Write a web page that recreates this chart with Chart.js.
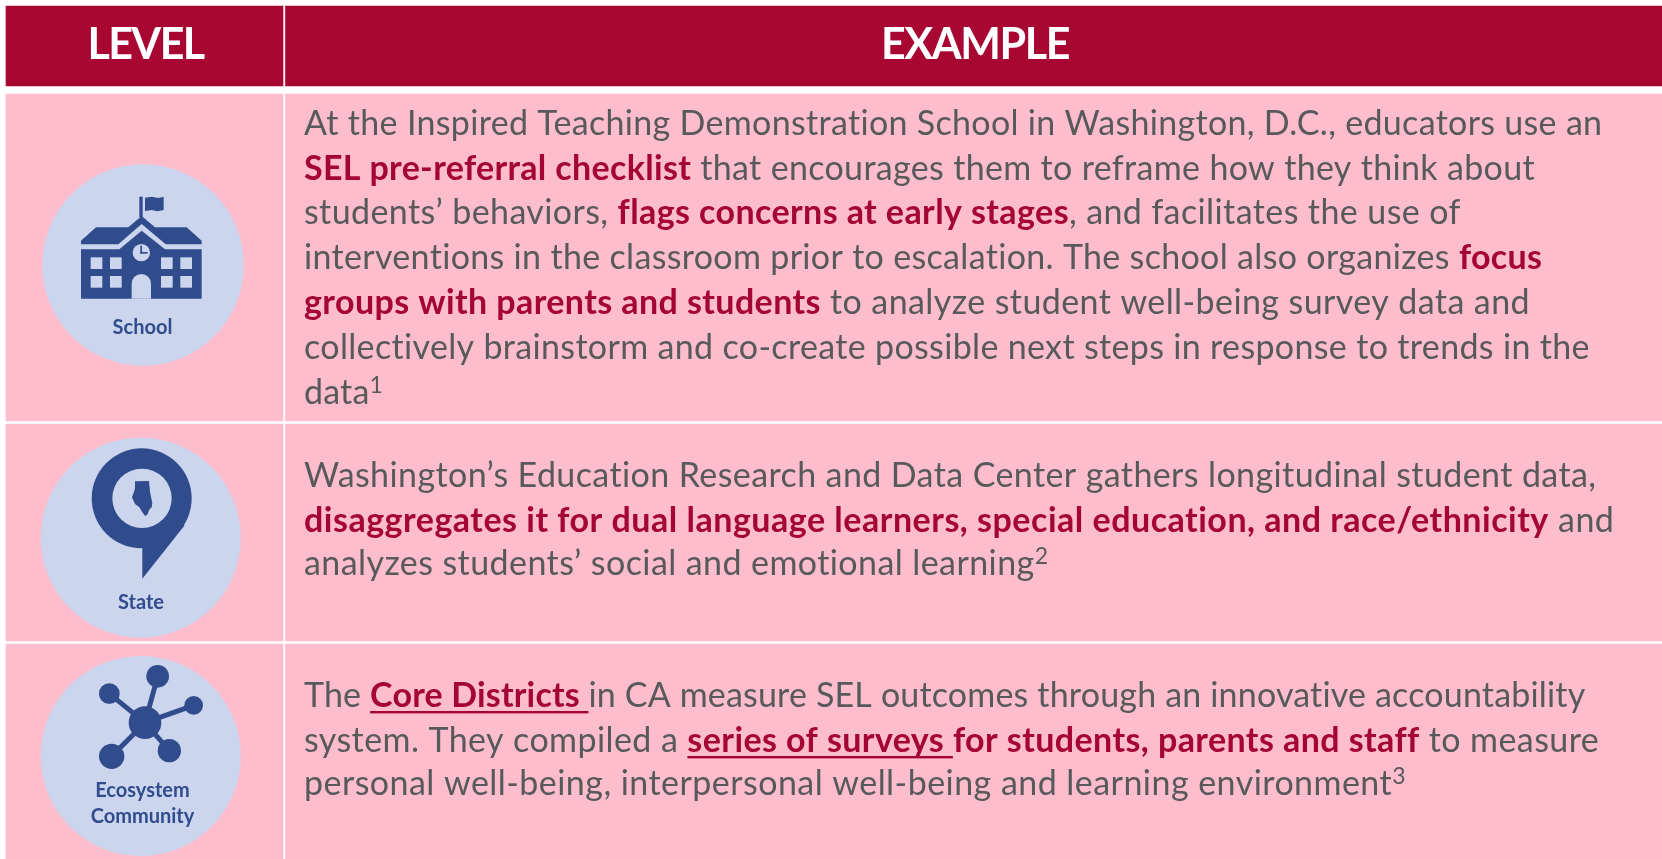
<!DOCTYPE html>
<html>
<head>
<meta charset="utf-8">
<title>SEL data examples by level</title>
<style>
  html, body { margin: 0; padding: 0; background: #fff; }
  canvas { display: block; }
</style>
<script src="https://cdn.jsdelivr.net/npm/chart.js@4"></script>
</head>
<body>
<canvas id="table" width="1662" height="859"></canvas>
<script>
/* table structure: every band is a floating bar on the page-sized scales */
const columnHeads = ["LEVEL", "EXAMPLE"];
const columnStarts = [6, 285.5];
const columnEnds = [283, 1662];
const rowTops = [6, 94, 424, 644];
const rowBottoms = [86, 421, 641, 859];

const levels = ["School", "State", "Ecosystem", "Community"];
const badgeX = [143, 140.7, 140.7];
const badgeY = [265, 537.7, 756];
const badgeR = [100.7, 100, 100];

/* text runs: n = normal, b = bold red, u = bold red underlined, s = superscript */
const schoolLines = [
  [["At the Inspired Teaching Demonstration School in Washington, D.C., educators use an", "n"]],
  [["SEL pre-referral checklist", "b"], [" that encourages them to reframe how they think about", "n"]],
  [["students’ behaviors, ", "n"], ["flags concerns at early stages", "b"], [", and facilitates the use of", "n"]],
  [["interventions in the classroom prior to escalation. The school also organizes ", "n"], ["focus", "b"]],
  [["groups with parents and students", "b"], [" to analyze student well-being survey data and", "n"]],
  [["collectively brainstorm and co-create possible next steps in response to trends in the", "n"]],
  [["data", "n"], ["1", "s"]],
];
const stateLines = [
  [["Washington’s Education Research and Data Center gathers longitudinal student data,", "n"]],
  [["disaggregates it for dual language learners, special education, and race/ethnicity", "b"], [" and", "n"]],
  [["analyzes students’ social and emotional learning", "n"], ["2", "s"]],
];
const ecosystemLines = [
  [["The ", "n"], ["Core Districts ", "u"], ["in CA measure SEL outcomes through an innovative accountability", "n"]],
  [["system. They compiled a ", "n"], ["series of surveys ", "u"], ["for students, parents and staff", "b"], [" to measure", "n"]],
  [["personal well-being, interpersonal well-being and learning environment", "n"], ["3", "s"]],
];
const allLines = [...schoolLines, ...stateLines, ...ecosystemLines];
const lineBaselines = [135, 180, 224, 269, 314, 359, 404, 487, 532, 575, 707, 752, 795];
const lineEnds = [1603, 1535, 1461, 1543.5, 1530, 1590.5, 383, 1597, 1615, 1049, 1586, 1598, 1406];
const textLeft = 304;

const RED = "#A80732";
const BOLD_RED = "#A50533";
const PINK = "#FDBDCD";
const BADGE = "#CCD5EE";
const BLUE = "#314C8C";
const GREY = "#58595B";
const FONT = "Lato, sans-serif";

function cellBars() {
  return rowTops.map((top, r) => ({
    type: "bar",
    order: 1,
    grouped: false,
    barThickness: rowBottoms[r] - top,
    backgroundColor: r === 0 ? RED : PINK,
    borderWidth: 0,
    data: columnStarts.map((start, c) => ({ x: [start, columnEnds[c]], y: (top + rowBottoms[r]) / 2 })),
  }));
}

/* squeeze or open a string so it fills the width */
function fitSpacing(ctx, text, width) {
  ctx.letterSpacing = "0px";
  return (width - ctx.measureText(text).width) / text.length;
}

function runFont(style) {
  if (style === "s") return `400 23px ${FONT}`;
  return `${style === "n" ? 400 : 700} 34px ${FONT}`;
}

function drawLine(ctx, runs, baseline, end) {
  let natural = 0, chars = 0;
  ctx.letterSpacing = "0px";
  runs.forEach(([text, style]) => {
    ctx.font = runFont(style);
    natural += ctx.measureText(text).width;
    chars += text.length;
  });
  ctx.letterSpacing = ((end - textLeft - natural) / chars) + "px";
  let x = textLeft;
  runs.forEach(([text, style]) => {
    ctx.font = runFont(style);
    ctx.fillStyle = style === "n" || style === "s" ? GREY : BOLD_RED;
    ctx.fillText(text, x, style === "s" ? baseline - 11 : baseline);
    const w = ctx.measureText(text).width;
    if (style === "u") ctx.fillRect(x, baseline + 4, w, 2.4);
    x += w;
  });
  ctx.letterSpacing = "0px";
}

function poly(ctx, pts) {
  ctx.beginPath();
  pts.forEach(([x, y], i) => (i ? ctx.lineTo(x, y) : ctx.moveTo(x, y)));
  ctx.closePath();
  ctx.fill();
}

function disc(ctx, x, y, r) {
  ctx.beginPath();
  ctx.arc(x, y, r, 0, Math.PI * 2);
  ctx.fill();
}

/* icon outlines are in 3x zoom units, measured from the page corner */
function schoolIcon(ctx) {
  ctx.fillStyle = BLUE;
  ctx.fillRect(418, 590, 10, 62);
  poly(ctx, [[435, 593], [455, 590], [475, 594], [491, 590], [491, 630], [472, 634], [455, 630], [435, 633]]);
  poly(ctx, [[243, 722], [288, 682], [385, 682], [425, 648], [465, 682], [560, 682], [605, 722], [605, 733],
    [497, 733], [425, 672], [355, 733], [243, 733]]);
  poly(ctx, [[243, 748], [358, 748], [425, 692], [495, 748], [605, 748], [605, 896], [243, 896]]);
  ctx.fillStyle = BADGE;
  disc(ctx, 424, 758, 26);
  [272, 330, 483, 541].forEach((x) => [772, 828].forEach((y) => ctx.fillRect(x, y, 35, 35)));
  ctx.beginPath();
  ctx.moveTo(395, 896);
  ctx.lineTo(395, 851);
  ctx.arc(424, 851, 29, Math.PI, 0);
  ctx.lineTo(453, 896);
  ctx.closePath();
  ctx.fill();
  ctx.fillStyle = BLUE;
  ctx.fillRect(421, 737, 5, 24);
  ctx.fillRect(421, 756, 22, 5);
}

function stateIcon(ctx) {
  ctx.fillStyle = BLUE;
  disc(ctx, 425, 235, 150);
  poly(ctx, [[427, 370], [427, 476], [554, 316], [500, 300]]);
  ctx.fillStyle = BADGE;
  disc(ctx, 426, 235, 89);
  ctx.fillStyle = BLUE;
  poly(ctx, [[405, 184], [447, 183], [450, 215], [457, 250], [455, 262], [447, 270], [443, 283], [435, 288],
    [428, 278], [418, 262], [405, 252], [396, 232], [402, 215], [405, 205]]);
}

function ecosystemIcon(ctx) {
  const nodes = [[473, 769, 34], [328, 821, 31], [581, 856, 28], [335, 1009, 38], [508, 992, 35]];
  ctx.fillStyle = BLUE;
  ctx.strokeStyle = BLUE;
  ctx.lineWidth = 15;
  nodes.forEach(([x, y, r]) => {
    ctx.beginPath();
    ctx.moveTo(435, 908);
    ctx.lineTo(x, y);
    ctx.stroke();
    disc(ctx, x, y, r);
  });
  disc(ctx, 435, 908, 49);
}

const tablePlugin = {
  id: "tableText",
  afterDatasetsDraw(chart) {
    const ctx = chart.ctx;
    const sx = chart.scales.x, sy = chart.scales.y;
    ctx.save();
    ctx.textBaseline = "alphabetic";
    ctx.textAlign = "left";

    // header
    ctx.fillStyle = "#fff";
    ctx.font = `700 43px ${FONT}`;
    ctx.letterSpacing = fitSpacing(ctx, columnHeads[0], 116) + "px";
    ctx.fillText(columnHeads[0], sx.getPixelForValue(87.5), sy.getPixelForValue(59));
    ctx.letterSpacing = fitSpacing(ctx, columnHeads[1], 188) + "px";
    ctx.fillText(columnHeads[1], sx.getPixelForValue(881), sy.getPixelForValue(59));
    ctx.letterSpacing = "0px";

    // body text
    allLines.forEach((runs, i) => drawLine(ctx, runs, lineBaselines[i], lineEnds[i]));

    // icons
    ctx.save();
    ctx.scale(1 / 3, 1 / 3);
    schoolIcon(ctx);
    ctx.translate(0, 420 * 3);
    stateIcon(ctx);
    ecosystemIcon(ctx);
    ctx.restore();

    // badge labels
    ctx.fillStyle = BLUE;
    ctx.textAlign = "center";
    ctx.font = `700 20px ${FONT}`;
    ctx.fillText(levels[0], 142.5, 334);
    ctx.fillText(levels[1], 141, 609);
    ctx.fillText(levels[2], 142.5, 797);
    ctx.fillText(levels[3], 142.5, 822.5);
    ctx.restore();
  },
};

new Chart(document.getElementById("table"), {
  data: {
    datasets: [
      ...cellBars(),
      {
        type: "bubble",
        order: 0,
        backgroundColor: BADGE,
        borderWidth: 0,
        data: badgeX.map((x, i) => ({ x, y: badgeY[i], r: badgeR[i] })),
      },
    ],
  },
  options: {
    indexAxis: "y",
    responsive: false,
    animation: false,
    events: [],
    layout: { padding: 0, autoPadding: false },
    plugins: { legend: { display: false }, tooltip: { enabled: false } },
    scales: {
      x: { type: "linear", min: 0, max: 1662, display: false, offset: false },
      y: { type: "linear", min: 0, max: 859, reverse: true, display: false, offset: false },
    },
  },
  plugins: [tablePlugin],
});
</script>
</body>
</html>
